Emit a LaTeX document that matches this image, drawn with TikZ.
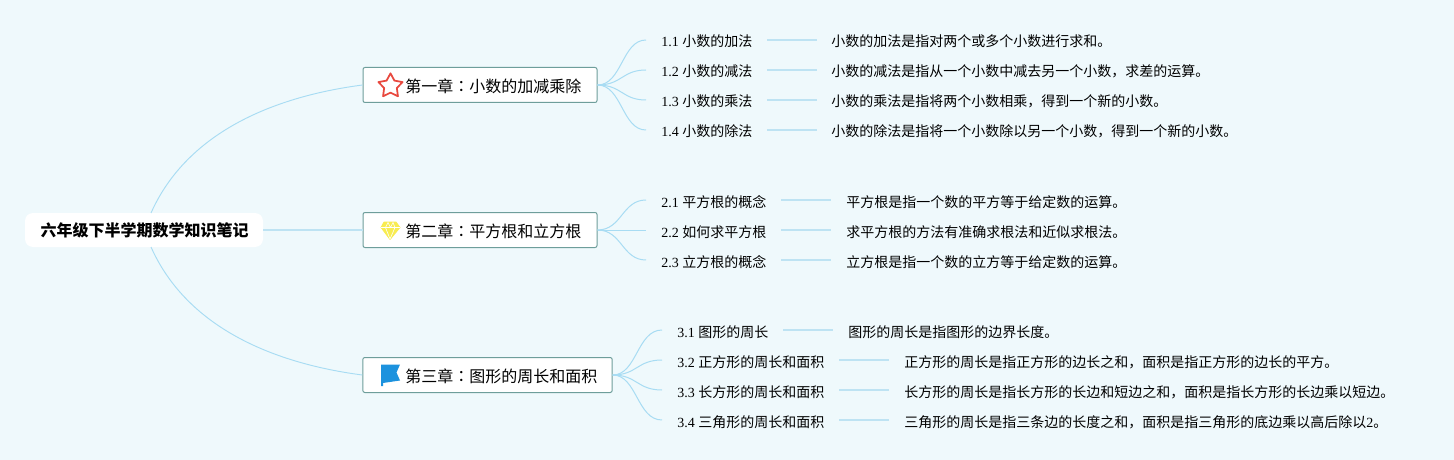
\documentclass[tikz,border=0pt]{standalone}
\usepackage{fontspec}
\usetikzlibrary{shapes.geometric, positioning}
\setmainfont{Liberation Serif}
\newfontfamily\cjk{Noto Sans CJK SC}
\newfontfamily\cjkcolon{Noto Sans CJK TC}
\definecolor{bgcolor}{RGB}{239,249,252}
\definecolor{linkcolor}{RGB}{168,220,243}
\definecolor{barcolor}{RGB}{190,227,243}
\definecolor{chapcolor}{RGB}{110,158,155}
\definecolor{starcolor}{RGB}{232,72,62}
\definecolor{gemcolor}{RGB}{248,236,80}
\definecolor{flagcolor}{RGB}{28,146,222}
\begin{document}
\begin{tikzpicture}[
    x=0.75pt, y=-0.75pt,
    root/.style={fill=white, rounded corners=6pt, minimum width=178.5pt, minimum height=25.5pt, inner sep=0pt, font=\fontsize{12}{14}\cjk\bfseries},
    chapter/.style={draw=chapcolor, line width=0.75pt, fill=white, rounded corners=1.5pt, minimum height=26.25pt, inner sep=0pt},
    chaptext/.style={anchor=west, inner sep=0pt, font=\fontsize{12}{14}\cjk},
    leaf/.style={anchor=west, inner xsep=0pt, inner ysep=0pt, text height=8pt, text depth=2pt, font=\fontsize{10.5}{12}\selectfont},
    link/.style={linkcolor, line width=0.7pt},
    bar/.style={barcolor, line width=1pt},
    trunk/.style={barcolor, line width=1.3pt},
    fan/.style={linkcolor, line width=0.75pt}
]
    \fill[bgcolor] (0,0) rectangle (1454,460);
    \useasboundingbox (0,0) rectangle (1454,460);

    % Root and chapters
    \node[root] (root) at (144,230) {\hspace{1pt}六年级下半学期数学知识笔记};
    \node[chapter, minimum width=175.5pt] (c1) at (480,85) {};
    \node[chapter, minimum width=175.5pt] (c2) at (480,230) {};
    \node[chapter, minimum width=187pt] (c3) at (487.5,375) {};
    \node[chaptext] (t1) at (405,86) {第一章{\cjkcolon ：}小数的加减乘除};
    \node[chaptext] (t2) at (405,231) {第二章{\cjkcolon ：}平方根和立方根};
    \node[chaptext] (t3) at (405,376) {第三章{\cjkcolon ：}图形的周长和面积};

    % Icons
    \node[star, star points=5, star point ratio=1.9, draw=starcolor, line width=1.3pt, line join=round, fill=white, minimum size=19pt, inner sep=0pt] (icon1) at (390.5,86) {};
    \filldraw[gemcolor, line width=0.6pt, line join=round, fill=gemcolor] (384,222) -- (396,222) -- (400,227.5) -- (390,239.5) -- (381,227.5) -- cycle;
    \draw[white, line width=0.45pt] (381,227.5) -- (400,227.5) (385.5,227.5) -- (390,239) -- (395,227.5) (385.5,227.5) -- (388,222.5) -- (390.5,227.5) -- (393,222.5) -- (395,227.5);
    \fill[flagcolor] (381,364.5) -- (400,364.5) -- (396.5,372.5) -- (400,380.5) -- (383,383) -- (383,386) -- (381,386) -- cycle;

    % Root links
    \draw[link] (151,213) .. controls (188,130) and (278,96) .. (c1.west);
    \draw[trunk] (root.east) -- (c2.west);
    \draw[link] (151,247) .. controls (188,330) and (278,364) .. (c3.west);

    % Chapter 1
    \foreach \y/\name/\lab/\txt in {
        43/a1/1.1 {\cjk 小数的加法}/{\cjk 小数的加法是指对两个或多个小数进行求和。},
        73/a2/1.2 {\cjk 小数的减法}/{\cjk 小数的减法是指从一个小数中减去另一个小数，求差的运算。},
        103/a3/1.3 {\cjk 小数的乘法}/{\cjk 小数的乘法是指将两个小数相乘，得到一个新的小数。},
        133/a4/1.4 {\cjk 小数的除法}/{\cjk 小数的除法是指将一个小数除以另一个小数，得到一个新的小数。}} {
        \node[leaf] (\name) at (661,\y) {\lab};
        \node[leaf] (\name d) at (831,\y) {\txt};
        \coordinate (\name s) at (646,\y-3);
        \coordinate (\name p) at (767,\y-3);
        \coordinate (\name q) at (817,\y-3);
        \draw[fan] (c1.east) .. controls (622,85) and (622,\y-3) .. (\name s);
        \draw[bar] (\name p) -- (\name q);
    }

    % Chapter 2
    \foreach \y/\name/\lab/\txt in {
        203/b1/2.1 {\cjk 平方根的概念}/{\cjk 平方根是指一个数的平方等于给定数的运算。},
        233/b2/2.2 {\cjk 如何求平方根}/{\cjk 求平方根的方法有准确求根法和近似求根法。},
        263/b3/2.3 {\cjk 立方根的概念}/{\cjk 立方根是指一个数的立方等于给定数的运算。}} {
        \node[leaf] (\name) at (661,\y) {\lab};
        \node[leaf] (\name d) at (846,\y) {\txt};
        \coordinate (\name s) at (646,\y-3);
        \coordinate (\name p) at (781,\y-3);
        \coordinate (\name q) at (831,\y-3);
        \draw[fan] (c2.east) .. controls (622,230) and (622,\y-3) .. (\name s);
        \draw[bar] (\name p) -- (\name q);
    }

    % Chapter 3
    \foreach \y/\name/\lab/\px/\dx/\txt in {
        333/e1/3.1 {\cjk 图形的周长}/783/848/{\cjk 图形的周长是指图形的边界长度。},
        363/e2/3.2 {\cjk 正方形的周长和面积}/839/904/{\cjk 正方形的周长是指正方形的边长之和，面积是指正方形的边长的平方。},
        393/e3/3.3 {\cjk 长方形的周长和面积}/839/904/{\cjk 长方形的周长是指长方形的长边和短边之和，面积是指长方形的长边乘以短边。},
        423/e4/3.4 {\cjk 三角形的周长和面积}/839/904/{\cjk 三角形的周长是指三条边的长度之和，面积是指三角形的底边乘以高后除以}2{\cjk 。}} {
        \node[leaf] (\name) at (677,\y) {\lab};
        \node[leaf] (\name d) at (\dx,\y) {\txt};
        \coordinate (\name s) at (662,\y-3);
        \coordinate (\name p) at (\px,\y-3);
        \coordinate (\name q) at (\px+50,\y-3);
        \draw[fan] (c3.east) .. controls (637,375) and (637,\y-3) .. (\name s);
        \draw[bar] (\name p) -- (\name q);
    }
\end{tikzpicture}
\end{document}
